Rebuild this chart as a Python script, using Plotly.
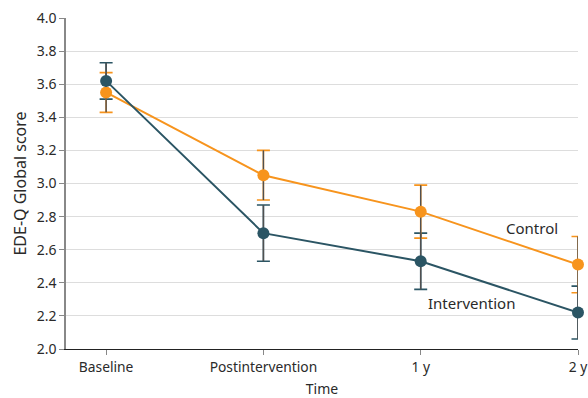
import plotly.graph_objects as go

categories = ["Baseline", "Postintervention", "1 y", "2 y"]
intervention = [3.62, 2.70, 2.53, 2.22]
intervention_hi = [3.73, 2.87, 2.70, 2.38]
intervention_lo = [3.51, 2.53, 2.36, 2.06]
control = [3.55, 3.05, 2.83, 2.51]
control_hi = [3.67, 3.20, 2.99, 2.68]
control_lo = [3.43, 2.90, 2.67, 2.34]

TEAL = "#2b5564"
ORANGE = "#f7941d"
STEM = "#505050"
FONT = "Noto Sans"
TXT = "#2a2a2a"

fig = go.Figure()

def err(vals, hi, lo):
    return dict(type="data", symmetric=False,
                array=[h - v for h, v in zip(hi, vals)],
                arrayminus=[v - l for v, l in zip(vals, lo)])

# colored caps
for vals, hi, lo, col in [(intervention, intervention_hi, intervention_lo, TEAL),
                          (control, control_hi, control_lo, ORANGE)]:
    e = err(vals, hi, lo)
    e.update(color=col, thickness=1.6, width=6.5)
    fig.add_trace(go.Scatter(x=categories, y=vals, mode="markers",
                             marker=dict(size=1, opacity=0), error_y=e,
                             showlegend=False, hoverinfo="skip", cliponaxis=False))
# gray stems
for vals, hi, lo in [(intervention, intervention_hi, intervention_lo),
                     (control, control_hi, control_lo)]:
    e = err(vals, hi, lo)
    e.update(color=STEM, thickness=1.4, width=0)
    fig.add_trace(go.Scatter(x=categories, y=vals, mode="markers",
                             marker=dict(size=1, opacity=0), error_y=e,
                             showlegend=False, hoverinfo="skip", cliponaxis=False))
# lines + markers
fig.add_trace(go.Scatter(x=categories, y=control, mode="lines+markers", name="Control",
                         line=dict(color=ORANGE, width=2),
                         marker=dict(color=ORANGE, size=12), cliponaxis=False))
fig.add_trace(go.Scatter(x=categories, y=intervention, mode="lines+markers", name="Intervention",
                         line=dict(color=TEAL, width=2),
                         marker=dict(color=TEAL, size=12), cliponaxis=False))

fig.add_annotation(x=2.71, y=2.73, xref="x", yref="y", text="Control", showarrow=False,
                   font=dict(family=FONT, size=15, color=TXT))
fig.add_annotation(x=2.325, y=2.28, xref="x", yref="y", text="Intervention", showarrow=False,
                   font=dict(family=FONT, size=15, color=TXT))

fig.update_layout(
    width=588, height=398,
    margin=dict(l=66, r=10, t=18, b=49),
    plot_bgcolor="white", paper_bgcolor="white",
    showlegend=False,
    font=dict(family=FONT, size=13, color=TXT),
)
fig.update_xaxes(type="category", range=[-0.255, 3.0], showgrid=False, automargin=False,
                 showline=True, linecolor="#222222", linewidth=1.2,
                 ticks="outside", ticklen=5, tickcolor="#888888", tickwidth=1,
                 tickfont=dict(family=FONT, size=13.8, color=TXT),
                 title=dict(text="Time", standoff=14, font=dict(family=FONT, size=14, color=TXT)))
fig.update_yaxes(range=[2.0, 4.0], tick0=2.0, dtick=0.2, tickformat=".1f", automargin=False,
                 showgrid=True, gridcolor="#dddddd", gridwidth=1,
                 showline=True, linecolor="#888888", linewidth=1.5,
                 ticks="outside", ticklen=5, tickcolor="#888888",
                 tickfont=dict(family=FONT, size=14, color=TXT),
                 zeroline=False,
                 title=dict(text="EDE-Q Global score", standoff=6,
                            font=dict(family=FONT, size=16, color=TXT)))

fig.write_html("out.html", config={"displayModeBar": False},
               post_script="document.body.style.margin='0';document.body.style.overflow='hidden';")
